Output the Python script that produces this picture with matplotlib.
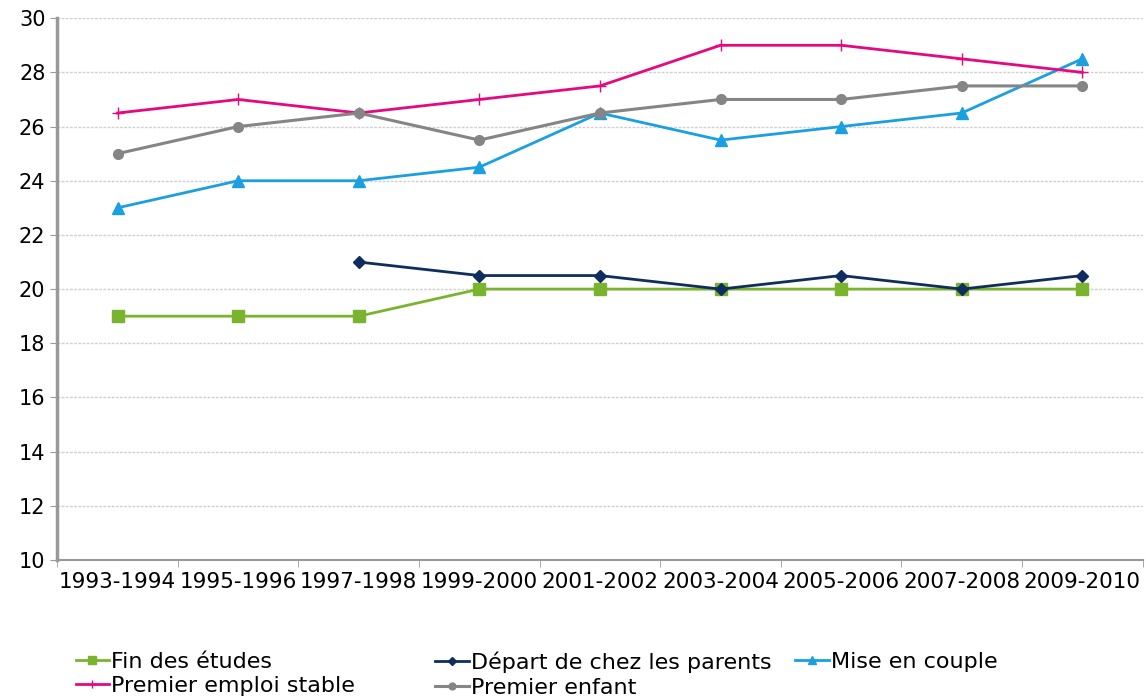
import matplotlib.pyplot as plt
import numpy as np

periodes = ['1993-1994', '1995-1996', '1997-1998', '1999-2000', '2001-2002',
            '2003-2004', '2005-2006', '2007-2008', '2009-2010']
fin_etudes = [19, 19, 19, 20, 20, 20, 20, 20, 20]
depart_parents = [np.nan, np.nan, 21, 20.5, 20.5, 20, 20.5, 20, 20.5]
mise_couple = [23, 24, 24, 24.5, 26.5, 25.5, 26, 26.5, 28.5]
premier_emploi = [26.5, 27, 26.5, 27, 27.5, 29, 29, 28.5, 28]
premier_enfant = [25, 26, 26.5, 25.5, 26.5, 27, 27, 27.5, 27.5]

fig = plt.figure(figsize=(11.46, 7), dpi=100)
ax = fig.add_axes([0.05, 0.2, 0.947, 0.774])
x = np.arange(len(periodes))

l1, = ax.plot(x, fin_etudes, color='#7ab32e', lw=2, marker='s', ms=8, label='Fin des études')
l2, = ax.plot(x, depart_parents, color='#0f2d5e', lw=2, marker='D', ms=6, label='Départ de chez les parents')
l3, = ax.plot(x, mise_couple, color='#1aa0e0', lw=2, marker='^', ms=8, label='Mise en couple')
l4, = ax.plot(x, premier_emploi, color='#e5097f', lw=2, marker='+', ms=8, mew=1, label='Premier emploi stable')
l5, = ax.plot(x, premier_enfant, color='#858585', lw=2.2, marker='o', ms=7, label='Premier enfant')

ax.set_xlim(-0.5, len(periodes) - 0.5)
ax.set_ylim(10, 30)
ax.set_yticks(range(10, 31, 2))
ax.set_xticks(x)
ax.set_xticklabels(periodes)
ax.set_xticks(np.arange(-0.5, len(periodes), 1), minor=True)
ax.tick_params(axis='x', which='major', length=0, labelsize=15.5, pad=9)
ax.tick_params(axis='x', which='minor', length=5, color='#999999')
ax.tick_params(axis='y', length=5, color='#999999', labelsize=15)
ax.yaxis.grid(True, color='#d0d0d0', lw=1, ls=(0, (2, 1)))
ax.set_axisbelow(True)
for s in ['top', 'right']:
    ax.spines[s].set_visible(False)
ax.spines['left'].set_color('#999999')
ax.spines['left'].set_linewidth(2.5)
ax.spines['bottom'].set_color('#999999')
ax.spines['bottom'].set_linewidth(1.5)

# legende en 3 colonnes placees a la main
colonnes = [([l1, l4], 0.066), ([l2, l5], 0.380), ([l3], 0.694)]
for hs, x0 in colonnes:
    fig.legend(hs, [h.get_label() for h in hs], loc='upper left',
               bbox_to_anchor=(x0, 0.069), frameon=False, fontsize=16,
               handlelength=1.5, handletextpad=0.1, labelspacing=0.2,
               borderaxespad=0, borderpad=0, markerscale=0.7)

fig.savefig('out.png', dpi=100)
